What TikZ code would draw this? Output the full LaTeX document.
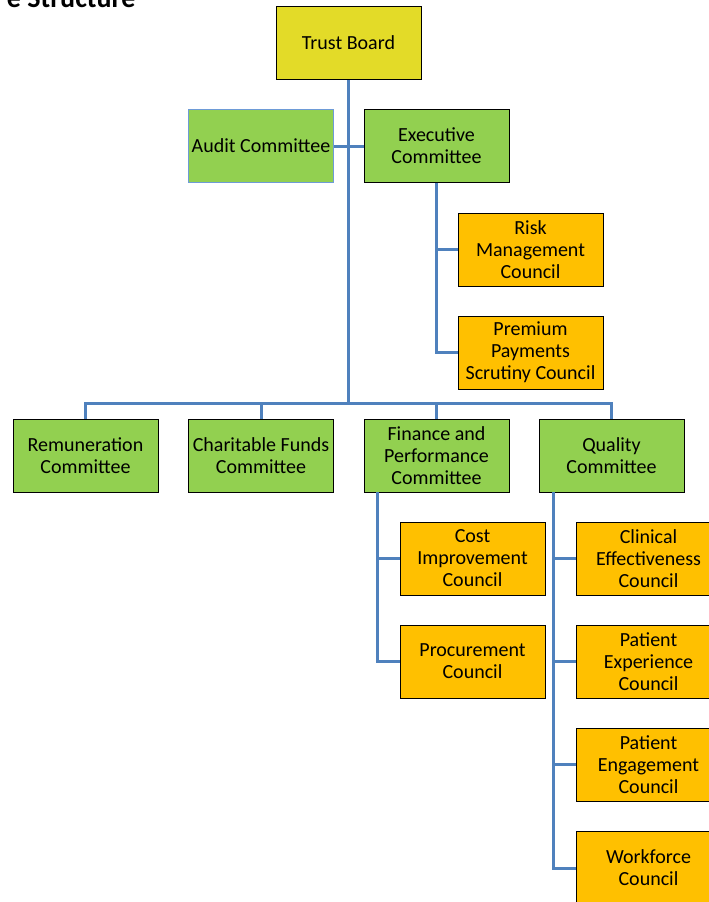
\documentclass[tikz,border=0pt]{standalone}
\usepackage{fontspec}
\setmainfont{Carlito}
\usetikzlibrary{calc}

\definecolor{boardyellow}{RGB}{227,219,40}
\definecolor{comgreen}{RGB}{146,208,80}
\definecolor{counorange}{RGB}{255,192,0}
\definecolor{linkblue}{RGB}{79,129,189}
\definecolor{auditblue}{RGB}{110,155,215}

\tikzset{
	unit/.style={draw=black, line width=0.9pt, minimum width=145pt, minimum height=73pt,
		inner sep=0pt, align=center, font=\fontsize{20pt}{22pt}\selectfont},
	board/.style={unit, fill=boardyellow},
	committee/.style={unit, fill=comgreen},
	council/.style={unit, fill=counorange},
	link/.style={draw=linkblue, line width=3pt}
}

\begin{document}
\begin{tikzpicture}[x=1pt,y=-1pt]
	\useasboundingbox (0,0) rectangle (709,902);
	\node[font=\bfseries\fontsize{28pt}{30pt}\selectfont, anchor=base east] (title) at (139,8) {e Structure};
	\coordinate (bar) at (349,403);
	% board and its first committees
	\node[board] (TB) at (348.5,43) {Trust Board};
	\node[committee, draw=auditblue] (AC) at (261,146) {Audit Committee};
	\node[committee] (EC) at (436.5,146) {Executive\\Committee};
	\node[council] (RMC) at (530.5,249.5) {Risk\\Management\\Council};
	\node[council] (PPSC) at (530.5,352.5) {Premium\\Payments\\Scrutiny Council};
	% committees on the bar
	\node[committee] (RC) at (85.5,455.5) {Remuneration\\Committee};
	\node[committee] (CFC) at (261,455.5) {Charitable Funds\\Committee};
	\node[committee] (FPC) at (436.5,455.5) {Finance and\\Performance\\Committee};
	\node[committee] (QC) at (611.5,455.5) {Quality\\Committee};
	% councils
	\node[council] (CIC) at (472.5,558.5) {Cost\\Improvement\\Council};
	\node[council] (PC) at (472.5,661.5) {Procurement\\Council};
	\node[council] (CEC) at (648.5,558.5) {Clinical\\Effectiveness\\Council};
	\node[council] (PXC) at (648.5,661.5) {Patient\\Experience\\Council};
	\node[council] (PNC) at (648.5,764.5) {Patient\\Engagement\\Council};
	\node[council] (WC) at (648.5,868) {Workforce\\Council};
	% links
	\draw[link] (TB.south) -- (TB.south |- bar);
	\draw[link] (AC.east) -- (EC.west);
	\draw[link] (EC.south) |- (PPSC.west);
	\draw[link] (EC.south |- RMC.west) -- (RMC.west);
	\draw[link] (RC.north) -- (RC.north |- bar) -- (QC.north |- bar) -- (QC.north);
	\draw[link] (CFC.north) -- (CFC.north |- bar);
	\draw[link] (FPC.north) -- (FPC.north |- bar);
	\coordinate (FPCb) at ($(FPC.south west)+(14,0)$);
	\draw[link] (FPCb) |- (PC.west);
	\draw[link] (FPCb |- CIC.west) -- (CIC.west);
	\coordinate (QCb) at ($(QC.south west)+(15,0)$);
	\draw[link] (QCb) |- (WC.west);
	\draw[link] (QCb |- CEC.west) -- (CEC.west);
	\draw[link] (QCb |- PXC.west) -- (PXC.west);
	\draw[link] (QCb |- PNC.west) -- (PNC.west);
\end{tikzpicture}
\end{document}
